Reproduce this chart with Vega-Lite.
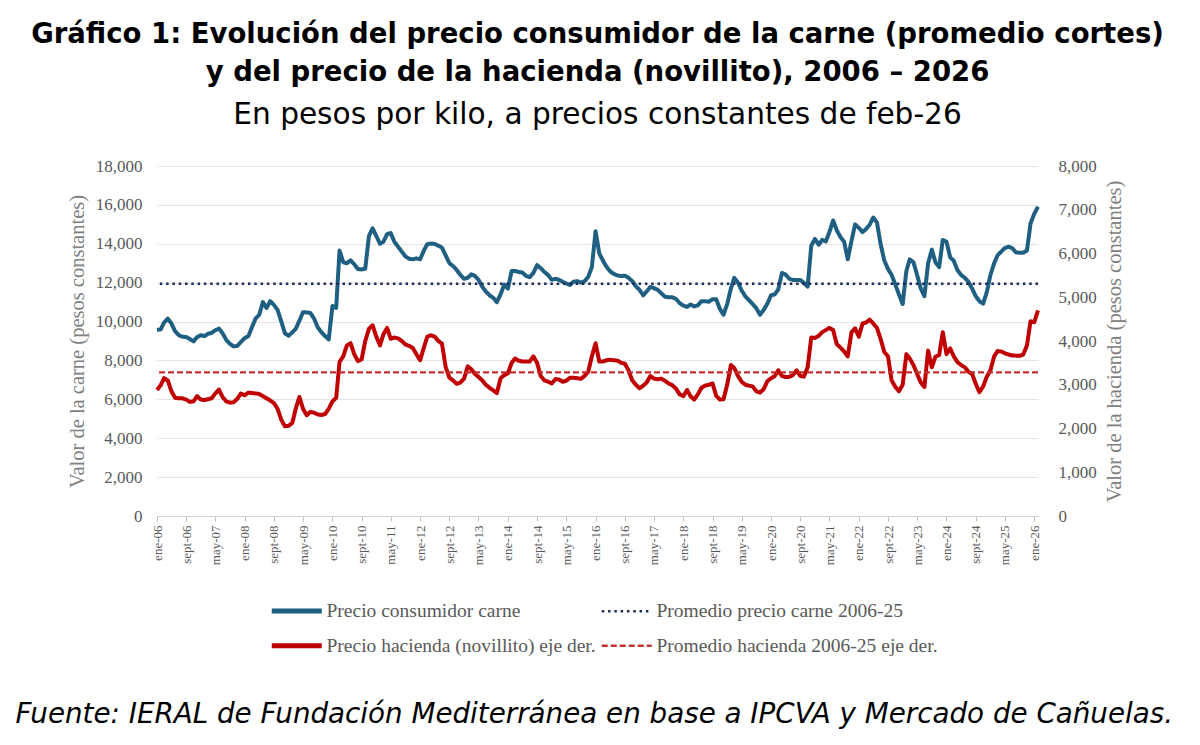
{
  "$schema": "https://vega.github.io/schema/vega-lite/v6.json",
  "width": 881,
  "height": 350,
  "autosize": "none",
  "padding": {"left": 157, "top": 166, "right": 162, "bottom": 229},
  "background": "white",
  "datasets": {
    "precios": [
      {"fecha":"2006-01-01","carne":9570,"hacienda":2880},{"fecha":"2006-02-01","carne":9600,"hacienda":2990},{"fecha":"2006-03-01","carne":9950,"hacienda":3150},{"fecha":"2006-04-01","carne":10150,"hacienda":3100},{"fecha":"2006-05-01","carne":9900,"hacienda":2850},{"fecha":"2006-06-01","carne":9500,"hacienda":2700},{"fecha":"2006-07-01","carne":9300,"hacienda":2690},{"fecha":"2006-08-01","carne":9220,"hacienda":2690},{"fecha":"2006-09-01","carne":9200,"hacienda":2660},{"fecha":"2006-10-01","carne":9100,"hacienda":2610},{"fecha":"2006-11-01","carne":8980,"hacienda":2620},{"fecha":"2006-12-01","carne":9200,"hacienda":2740},
      {"fecha":"2007-01-01","carne":9300,"hacienda":2660},{"fecha":"2007-02-01","carne":9250,"hacienda":2650},{"fecha":"2007-03-01","carne":9370,"hacienda":2670},{"fecha":"2007-04-01","carne":9420,"hacienda":2690},{"fecha":"2007-05-01","carne":9550,"hacienda":2800},{"fecha":"2007-06-01","carne":9640,"hacienda":2890},{"fecha":"2007-07-01","carne":9400,"hacienda":2720},{"fecha":"2007-08-01","carne":9050,"hacienda":2620},{"fecha":"2007-09-01","carne":8850,"hacienda":2590},{"fecha":"2007-10-01","carne":8720,"hacienda":2600},{"fecha":"2007-11-01","carne":8750,"hacienda":2680},{"fecha":"2007-12-01","carne":8950,"hacienda":2800},
      {"fecha":"2008-01-01","carne":9150,"hacienda":2760},{"fecha":"2008-02-01","carne":9250,"hacienda":2820},{"fecha":"2008-03-01","carne":9700,"hacienda":2810},{"fecha":"2008-04-01","carne":10150,"hacienda":2800},{"fecha":"2008-05-01","carne":10350,"hacienda":2790},{"fecha":"2008-06-01","carne":11000,"hacienda":2740},{"fecha":"2008-07-01","carne":10700,"hacienda":2690},{"fecha":"2008-08-01","carne":11050,"hacienda":2640},{"fecha":"2008-09-01","carne":10850,"hacienda":2580},{"fecha":"2008-10-01","carne":10600,"hacienda":2450},{"fecha":"2008-11-01","carne":10000,"hacienda":2200},{"fecha":"2008-12-01","carne":9400,"hacienda":2050},
      {"fecha":"2009-01-01","carne":9270,"hacienda":2060},{"fecha":"2009-02-01","carne":9450,"hacienda":2130},{"fecha":"2009-03-01","carne":9620,"hacienda":2450},{"fecha":"2009-04-01","carne":10050,"hacienda":2720},{"fecha":"2009-05-01","carne":10480,"hacienda":2450},{"fecha":"2009-06-01","carne":10470,"hacienda":2300},{"fecha":"2009-07-01","carne":10440,"hacienda":2380},{"fecha":"2009-08-01","carne":10150,"hacienda":2360},{"fecha":"2009-09-01","carne":9700,"hacienda":2320},{"fecha":"2009-10-01","carne":9450,"hacienda":2310},{"fecha":"2009-11-01","carne":9250,"hacienda":2330},{"fecha":"2009-12-01","carne":9080,"hacienda":2450},
      {"fecha":"2010-01-01","carne":10800,"hacienda":2620},{"fecha":"2010-02-01","carne":10700,"hacienda":2700},{"fecha":"2010-03-01","carne":13650,"hacienda":3520},{"fecha":"2010-04-01","carne":13050,"hacienda":3650},{"fecha":"2010-05-01","carne":13000,"hacienda":3900},{"fecha":"2010-06-01","carne":13150,"hacienda":3950},{"fecha":"2010-07-01","carne":12950,"hacienda":3700},{"fecha":"2010-08-01","carne":12700,"hacienda":3540},{"fecha":"2010-09-01","carne":12680,"hacienda":3580},{"fecha":"2010-10-01","carne":12720,"hacienda":4000},{"fecha":"2010-11-01","carne":14400,"hacienda":4280},{"fecha":"2010-12-01","carne":14800,"hacienda":4360},
      {"fecha":"2011-01-01","carne":14400,"hacienda":4100},{"fecha":"2011-02-01","carne":14000,"hacienda":3900},{"fecha":"2011-03-01","carne":14100,"hacienda":4150},{"fecha":"2011-04-01","carne":14500,"hacienda":4300},{"fecha":"2011-05-01","carne":14550,"hacienda":4050},{"fecha":"2011-06-01","carne":14100,"hacienda":4080},{"fecha":"2011-07-01","carne":13850,"hacienda":4060},{"fecha":"2011-08-01","carne":13600,"hacienda":4000},{"fecha":"2011-09-01","carne":13350,"hacienda":3920},{"fecha":"2011-10-01","carne":13230,"hacienda":3890},{"fecha":"2011-11-01","carne":13200,"hacienda":3840},{"fecha":"2011-12-01","carne":13250,"hacienda":3700},
      {"fecha":"2012-01-01","carne":13200,"hacienda":3560},{"fecha":"2012-02-01","carne":13650,"hacienda":3850},{"fecha":"2012-03-01","carne":13980,"hacienda":4100},{"fecha":"2012-04-01","carne":14010,"hacienda":4130},{"fecha":"2012-05-01","carne":13990,"hacienda":4100},{"fecha":"2012-06-01","carne":13900,"hacienda":4000},{"fecha":"2012-07-01","carne":13800,"hacienda":3940},{"fecha":"2012-08-01","carne":13400,"hacienda":3400},{"fecha":"2012-09-01","carne":13000,"hacienda":3160},{"fecha":"2012-10-01","carne":12850,"hacienda":3100},{"fecha":"2012-11-01","carne":12650,"hacienda":3020},{"fecha":"2012-12-01","carne":12400,"hacienda":3050},
      {"fecha":"2013-01-01","carne":12200,"hacienda":3140},{"fecha":"2013-02-01","carne":12250,"hacienda":3420},{"fecha":"2013-03-01","carne":12430,"hacienda":3360},{"fecha":"2013-04-01","carne":12350,"hacienda":3250},{"fecha":"2013-05-01","carne":12150,"hacienda":3180},{"fecha":"2013-06-01","carne":11800,"hacienda":3100},{"fecha":"2013-07-01","carne":11550,"hacienda":3000},{"fecha":"2013-08-01","carne":11350,"hacienda":2930},{"fecha":"2013-09-01","carne":11220,"hacienda":2870},{"fecha":"2013-10-01","carne":11000,"hacienda":2810},{"fecha":"2013-11-01","carne":11400,"hacienda":3150},{"fecha":"2013-12-01","carne":11900,"hacienda":3220},
      {"fecha":"2014-01-01","carne":11700,"hacienda":3260},{"fecha":"2014-02-01","carne":12600,"hacienda":3500},{"fecha":"2014-03-01","carne":12600,"hacienda":3600},{"fecha":"2014-04-01","carne":12550,"hacienda":3550},{"fecha":"2014-05-01","carne":12520,"hacienda":3530},{"fecha":"2014-06-01","carne":12350,"hacienda":3530},{"fecha":"2014-07-01","carne":12280,"hacienda":3530},{"fecha":"2014-08-01","carne":12500,"hacienda":3650},{"fecha":"2014-09-01","carne":12900,"hacienda":3500},{"fecha":"2014-10-01","carne":12750,"hacienda":3200},{"fecha":"2014-11-01","carne":12550,"hacienda":3100},{"fecha":"2014-12-01","carne":12400,"hacienda":3070},
      {"fecha":"2015-01-01","carne":12150,"hacienda":3030},{"fecha":"2015-02-01","carne":12200,"hacienda":3130},{"fecha":"2015-03-01","carne":12150,"hacienda":3120},{"fecha":"2015-04-01","carne":12050,"hacienda":3070},{"fecha":"2015-05-01","carne":11960,"hacienda":3090},{"fecha":"2015-06-01","carne":11880,"hacienda":3160},{"fecha":"2015-07-01","carne":12050,"hacienda":3160},{"fecha":"2015-08-01","carne":12080,"hacienda":3150},{"fecha":"2015-09-01","carne":12000,"hacienda":3135},{"fecha":"2015-10-01","carne":12070,"hacienda":3200},{"fecha":"2015-11-01","carne":12300,"hacienda":3300},{"fecha":"2015-12-01","carne":12800,"hacienda":3650},
      {"fecha":"2016-01-01","carne":14650,"hacienda":3950},{"fecha":"2016-02-01","carne":13500,"hacienda":3530},{"fecha":"2016-03-01","carne":13150,"hacienda":3530},{"fecha":"2016-04-01","carne":12820,"hacienda":3560},{"fecha":"2016-05-01","carne":12580,"hacienda":3570},{"fecha":"2016-06-01","carne":12450,"hacienda":3560},{"fecha":"2016-07-01","carne":12370,"hacienda":3550},{"fecha":"2016-08-01","carne":12340,"hacienda":3500},{"fecha":"2016-09-01","carne":12360,"hacienda":3480},{"fecha":"2016-10-01","carne":12250,"hacienda":3330},{"fecha":"2016-11-01","carne":12080,"hacienda":3100},{"fecha":"2016-12-01","carne":11820,"hacienda":3000},
      {"fecha":"2017-01-01","carne":11630,"hacienda":2920},{"fecha":"2017-02-01","carne":11350,"hacienda":2980},{"fecha":"2017-03-01","carne":11550,"hacienda":3050},{"fecha":"2017-04-01","carne":11780,"hacienda":3200},{"fecha":"2017-05-01","carne":11720,"hacienda":3140},{"fecha":"2017-06-01","carne":11630,"hacienda":3125},{"fecha":"2017-07-01","carne":11450,"hacienda":3140},{"fecha":"2017-08-01","carne":11280,"hacienda":3090},{"fecha":"2017-09-01","carne":11250,"hacienda":3030},{"fecha":"2017-10-01","carne":11250,"hacienda":2990},{"fecha":"2017-11-01","carne":11160,"hacienda":2910},{"fecha":"2017-12-01","carne":10950,"hacienda":2780},
      {"fecha":"2018-01-01","carne":10820,"hacienda":2740},{"fecha":"2018-02-01","carne":10750,"hacienda":2880},{"fecha":"2018-03-01","carne":10880,"hacienda":2740},{"fecha":"2018-04-01","carne":10780,"hacienda":2660},{"fecha":"2018-05-01","carne":10830,"hacienda":2780},{"fecha":"2018-06-01","carne":11050,"hacienda":2930},{"fecha":"2018-07-01","carne":11050,"hacienda":2980},{"fecha":"2018-08-01","carne":11020,"hacienda":3000},{"fecha":"2018-09-01","carne":11150,"hacienda":3030},{"fecha":"2018-10-01","carne":11150,"hacienda":2750},{"fecha":"2018-11-01","carne":10650,"hacienda":2660},{"fecha":"2018-12-01","carne":10350,"hacienda":2670},
      {"fecha":"2019-01-01","carne":10900,"hacienda":3000},{"fecha":"2019-02-01","carne":11700,"hacienda":3450},{"fecha":"2019-03-01","carne":12250,"hacienda":3380},{"fecha":"2019-04-01","carne":12000,"hacienda":3200},{"fecha":"2019-05-01","carne":11600,"hacienda":3070},{"fecha":"2019-06-01","carne":11300,"hacienda":3000},{"fecha":"2019-07-01","carne":11100,"hacienda":2980},{"fecha":"2019-08-01","carne":10900,"hacienda":2960},{"fecha":"2019-09-01","carne":10680,"hacienda":2850},{"fecha":"2019-10-01","carne":10350,"hacienda":2820},{"fecha":"2019-11-01","carne":10600,"hacienda":2900},{"fecha":"2019-12-01","carne":10920,"hacienda":3080},
      {"fecha":"2020-01-01","carne":11350,"hacienda":3150},{"fecha":"2020-02-01","carne":11400,"hacienda":3200},{"fecha":"2020-03-01","carne":11650,"hacienda":3330},{"fecha":"2020-04-01","carne":12500,"hacienda":3200},{"fecha":"2020-05-01","carne":12420,"hacienda":3175},{"fecha":"2020-06-01","carne":12200,"hacienda":3180},{"fecha":"2020-07-01","carne":12140,"hacienda":3220},{"fecha":"2020-08-01","carne":12140,"hacienda":3330},{"fecha":"2020-09-01","carne":12140,"hacienda":3200},{"fecha":"2020-10-01","carne":11980,"hacienda":3186},{"fecha":"2020-11-01","carne":11800,"hacienda":3400},{"fecha":"2020-12-01","carne":13900,"hacienda":4080},
      {"fecha":"2021-01-01","carne":14250,"hacienda":4070},{"fecha":"2021-02-01","carne":13950,"hacienda":4120},{"fecha":"2021-03-01","carne":14200,"hacienda":4200},{"fecha":"2021-04-01","carne":14120,"hacienda":4250},{"fecha":"2021-05-01","carne":14600,"hacienda":4300},{"fecha":"2021-06-01","carne":15200,"hacienda":4250},{"fecha":"2021-07-01","carne":14700,"hacienda":3930},{"fecha":"2021-08-01","carne":14350,"hacienda":3850},{"fecha":"2021-09-01","carne":14100,"hacienda":3760},{"fecha":"2021-10-01","carne":13200,"hacienda":3650},{"fecha":"2021-11-01","carne":14150,"hacienda":4200},{"fecha":"2021-12-01","carne":15000,"hacienda":4290},
      {"fecha":"2022-01-01","carne":14820,"hacienda":4100},{"fecha":"2022-02-01","carne":14600,"hacienda":4400},{"fecha":"2022-03-01","carne":14750,"hacienda":4420},{"fecha":"2022-04-01","carne":14980,"hacienda":4490},{"fecha":"2022-05-01","carne":15350,"hacienda":4400},{"fecha":"2022-06-01","carne":15100,"hacienda":4300},{"fecha":"2022-07-01","carne":14000,"hacienda":4050},{"fecha":"2022-08-01","carne":13150,"hacienda":3750},{"fecha":"2022-09-01","carne":12700,"hacienda":3650},{"fecha":"2022-10-01","carne":12400,"hacienda":3100},{"fecha":"2022-11-01","carne":11900,"hacienda":2950},{"fecha":"2022-12-01","carne":11400,"hacienda":2850},
      {"fecha":"2023-01-01","carne":10900,"hacienda":3000},{"fecha":"2023-02-01","carne":12600,"hacienda":3700},{"fecha":"2023-03-01","carne":13200,"hacienda":3600},{"fecha":"2023-04-01","carne":13050,"hacienda":3450},{"fecha":"2023-05-01","carne":12400,"hacienda":3250},{"fecha":"2023-06-01","carne":11700,"hacienda":3050},{"fecha":"2023-07-01","carne":11300,"hacienda":2950},{"fecha":"2023-08-01","carne":13000,"hacienda":3780},{"fecha":"2023-09-01","carne":13700,"hacienda":3400},{"fecha":"2023-10-01","carne":13050,"hacienda":3640},{"fecha":"2023-11-01","carne":12800,"hacienda":3680},{"fecha":"2023-12-01","carne":14200,"hacienda":4200},
      {"fecha":"2024-01-01","carne":14100,"hacienda":3700},{"fecha":"2024-02-01","carne":13300,"hacienda":3830},{"fecha":"2024-03-01","carne":13130,"hacienda":3650},{"fecha":"2024-04-01","carne":12650,"hacienda":3520},{"fecha":"2024-05-01","carne":12400,"hacienda":3450},{"fecha":"2024-06-01","carne":12250,"hacienda":3400},{"fecha":"2024-07-01","carne":12050,"hacienda":3300},{"fecha":"2024-08-01","carne":11700,"hacienda":3250},{"fecha":"2024-09-01","carne":11300,"hacienda":3020},{"fecha":"2024-10-01","carne":11050,"hacienda":2830},{"fecha":"2024-11-01","carne":10920,"hacienda":2960},{"fecha":"2024-12-01","carne":11500,"hacienda":3180},
      {"fecha":"2025-01-01","carne":12400,"hacienda":3330},{"fecha":"2025-02-01","carne":13000,"hacienda":3650},{"fecha":"2025-03-01","carne":13400,"hacienda":3770},{"fecha":"2025-04-01","carne":13600,"hacienda":3760},{"fecha":"2025-05-01","carne":13780,"hacienda":3720},{"fecha":"2025-06-01","carne":13850,"hacienda":3690},{"fecha":"2025-07-01","carne":13780,"hacienda":3670},{"fecha":"2025-08-01","carne":13560,"hacienda":3665},{"fecha":"2025-09-01","carne":13540,"hacienda":3660},{"fecha":"2025-10-01","carne":13540,"hacienda":3690},{"fecha":"2025-11-01","carne":13650,"hacienda":3900},{"fecha":"2025-12-01","carne":15050,"hacienda":4450},
      {"fecha":"2026-01-01","carne":15550,"hacienda":4430},{"fecha":"2026-02-01","carne":15900,"hacienda":4700}
    ],
    "prom_carne": [{"carne": 11950}],
    "prom_hacienda": [{"hacienda": 3285}]
  },
  "title": {
    "text": ["Gráfico 1: Evolución del precio consumidor de la carne (promedio cortes)", "y del precio de la hacienda (novillito), 2006 – 2026"],
    "subtitle": "En pesos por kilo, a precios constantes de feb-26",
    "anchor": "middle",
    "frame": "group",
    "font": "DejaVu Sans",
    "fontSize": 27.5,
    "fontWeight": "bold",
    "color": "#000000",
    "lineHeight": 38,
    "subtitleFont": "DejaVu Sans",
    "subtitleFontSize": 29.6,
    "subtitleFontWeight": "normal",
    "subtitleColor": "#000000",
    "subtitlePadding": 15,
    "offset": 27
  },
  "layer": [
    {
      "encoding": {
        "y": {
          "field": "carne",
          "type": "quantitative",
          "scale": {"domain": [0, 18000], "nice": false, "zero": true},
          "axis": {
            "orient": "left",
            "title": "Valor de la carne (pesos constantes)",
            "values": [0, 2000, 4000, 6000, 8000, 10000, 12000, 14000, 16000, 18000],
            "format": ",d",
            "labelFont": "Liberation Serif",
            "labelFontSize": 17,
            "labelColor": "#595959",
            "labelPadding": 15,
            "ticks": false,
            "domain": false,
            "grid": true,
            "gridColor": "#e4e4e4",
            "gridWidth": 1,
            "titleFont": "Liberation Serif",
            "titleFontSize": 20.5,
            "titleFontWeight": "normal",
            "titleColor": "#7f7f7f",
            "titlePadding": 8
          }
        }
      },
      "layer": [
        {
          "data": {"name": "precios"},
          "mark": {"type": "line", "strokeWidth": 4, "strokeJoin": "round"},
          "encoding": {
            "x": {
              "field": "fecha",
              "type": "temporal",
              "scale": {"type": "utc", "domain": [{"year": 2006, "month": 1, "date": 1, "utc": true}, {"year": 2026, "month": 2, "date": 1, "utc": true}]},
              "axis": {
                "values": [
                  {"year":2006,"month":1,"date":1,"utc":true},{"year":2006,"month":9,"date":1,"utc":true},{"year":2007,"month":5,"date":1,"utc":true},
                  {"year":2008,"month":1,"date":1,"utc":true},{"year":2008,"month":9,"date":1,"utc":true},{"year":2009,"month":5,"date":1,"utc":true},
                  {"year":2010,"month":1,"date":1,"utc":true},{"year":2010,"month":9,"date":1,"utc":true},{"year":2011,"month":5,"date":1,"utc":true},
                  {"year":2012,"month":1,"date":1,"utc":true},{"year":2012,"month":9,"date":1,"utc":true},{"year":2013,"month":5,"date":1,"utc":true},
                  {"year":2014,"month":1,"date":1,"utc":true},{"year":2014,"month":9,"date":1,"utc":true},{"year":2015,"month":5,"date":1,"utc":true},
                  {"year":2016,"month":1,"date":1,"utc":true},{"year":2016,"month":9,"date":1,"utc":true},{"year":2017,"month":5,"date":1,"utc":true},
                  {"year":2018,"month":1,"date":1,"utc":true},{"year":2018,"month":9,"date":1,"utc":true},{"year":2019,"month":5,"date":1,"utc":true},
                  {"year":2020,"month":1,"date":1,"utc":true},{"year":2020,"month":9,"date":1,"utc":true},{"year":2021,"month":5,"date":1,"utc":true},
                  {"year":2022,"month":1,"date":1,"utc":true},{"year":2022,"month":9,"date":1,"utc":true},{"year":2023,"month":5,"date":1,"utc":true},
                  {"year":2024,"month":1,"date":1,"utc":true},{"year":2024,"month":9,"date":1,"utc":true},{"year":2025,"month":5,"date":1,"utc":true},
                  {"year":2026,"month":1,"date":1,"utc":true}
                ],
                "tickCount": 40,
                "labelExpr": "['ene','feb','mar','abr','may','jun','jul','ago','sept','oct','nov','dic'][utcmonth(datum.value)] + '-' + utcFormat(datum.value, '%y')",
                "labelAngle": 270,
                "labelFont": "Liberation Serif",
                "labelFontSize": 13,
                "labelColor": "#595959",
                "labelPadding": 4,
                "labelOverlap": false,
                "labelFlush": false,
                "grid": false,
                "domainColor": "#d0d0d0",
                "tickColor": "#c0c0c0",
                "tickSize": 5,
                "title": "Fuente: IERAL de Fundación Mediterránea en base a IPCVA y Mercado de Cañuelas.",
                "titleFont": "DejaVu Sans",
                "titleFontSize": 27.75,
                "titleFontStyle": "italic",
                "titleFontWeight": "normal",
                "titleColor": "#000000",
                "titleAnchor": "start",
                "titleAlign": "left",
                "titleBaseline": "alphabetic",
                "titleX": -142,
                "titleY": 206
              }
            },
            "color": {
              "datum": "Precio consumidor carne",
              "type": "nominal",
              "scale": {
                "domain": ["Precio consumidor carne", "Promedio precio carne 2006-25", "Precio hacienda (novillito) eje der.", "Promedio hacienda 2006-25 eje der."],
                "range": ["#1f5f82", "#1c2b5a", "#c00000", "#c53030"]
              },
              "legend": {
                "title": null,
                "orient": "none",
                "legendX": 130,
                "legendY": 435,
                "direction": "horizontal",
                "columns": 2,
                "columnPadding": 0,
                "rowPadding": 14,
                "symbolType": "M-2.5,0H2.5",
                "symbolSize": 400,
                "labelOffset": 20,
                "labelFont": "Liberation Serif",
                "labelFontSize": 19.5,
                "labelColor": "#595959",
                "labelLimit": 400,
                "padding": 0,
                "encode": {
                  "symbols": {
                    "update": {
                      "strokeWidth": {"signal": "indexof(['Precio consumidor carne','Precio hacienda (novillito) eje der.'], datum.value) >= 0 ? 5 : 2.5"}
                    }
                  }
                }
              }
            },
            "strokeDash": {
              "datum": "Precio consumidor carne",
              "type": "nominal",
              "scale": {
                "domain": ["Precio consumidor carne", "Promedio precio carne 2006-25", "Precio hacienda (novillito) eje der.", "Promedio hacienda 2006-25 eje der."],
                "range": [[1, 0], [2.5, 3.8], [1, 0], [6, 3]]
              },
              "legend": {
                "title": null,
                "orient": "none",
                "legendX": 130,
                "legendY": 435,
                "direction": "horizontal",
                "columns": 2,
                "columnPadding": 0,
                "rowPadding": 14,
                "symbolType": "M-2.5,0H2.5",
                "symbolSize": 400,
                "labelOffset": 20,
                "labelFont": "Liberation Serif",
                "labelFontSize": 19.5,
                "labelColor": "#595959",
                "labelLimit": 400,
                "padding": 0
              }
            }
          }
        },
        {
          "data": {"name": "prom_carne"},
          "mark": {"type": "rule", "strokeWidth": 2.5},
          "encoding": {
            "color": {"datum": "Promedio precio carne 2006-25", "type": "nominal"},
            "strokeDash": {"datum": "Promedio precio carne 2006-25", "type": "nominal"}
          }
        }
      ]
    },
    {
      "encoding": {
        "y": {
          "field": "hacienda",
          "type": "quantitative",
          "scale": {"domain": [0, 8000], "nice": false, "zero": true},
          "axis": {
            "orient": "right",
            "title": "Valor de la hacienda (pesos constantes)",
            "values": [0, 1000, 2000, 3000, 4000, 5000, 6000, 7000, 8000],
            "format": ",d",
            "labelFont": "Liberation Serif",
            "labelFontSize": 17,
            "labelColor": "#595959",
            "labelPadding": 20,
            "ticks": false,
            "domain": false,
            "grid": false,
            "titleFont": "Liberation Serif",
            "titleFontSize": 20.5,
            "titleFontWeight": "normal",
            "titleColor": "#7f7f7f",
            "titleAngle": 270,
            "titleBaseline": "top",
            "titlePadding": 8
          }
        }
      },
      "layer": [
        {
          "data": {"name": "precios"},
          "mark": {"type": "line", "strokeWidth": 4, "strokeJoin": "round"},
          "encoding": {
            "x": {"field": "fecha", "type": "temporal"},
            "color": {"datum": "Precio hacienda (novillito) eje der.", "type": "nominal"},
            "strokeDash": {"datum": "Precio hacienda (novillito) eje der.", "type": "nominal"}
          }
        },
        {
          "data": {"name": "prom_hacienda"},
          "mark": {"type": "rule", "strokeWidth": 2.2},
          "encoding": {
            "color": {"datum": "Promedio hacienda 2006-25 eje der.", "type": "nominal"},
            "strokeDash": {"datum": "Promedio hacienda 2006-25 eje der.", "type": "nominal"}
          }
        }
      ]
    }
  ],
  "resolve": {"scale": {"y": "independent"}},
  "config": {"view": {"stroke": null}}
}
